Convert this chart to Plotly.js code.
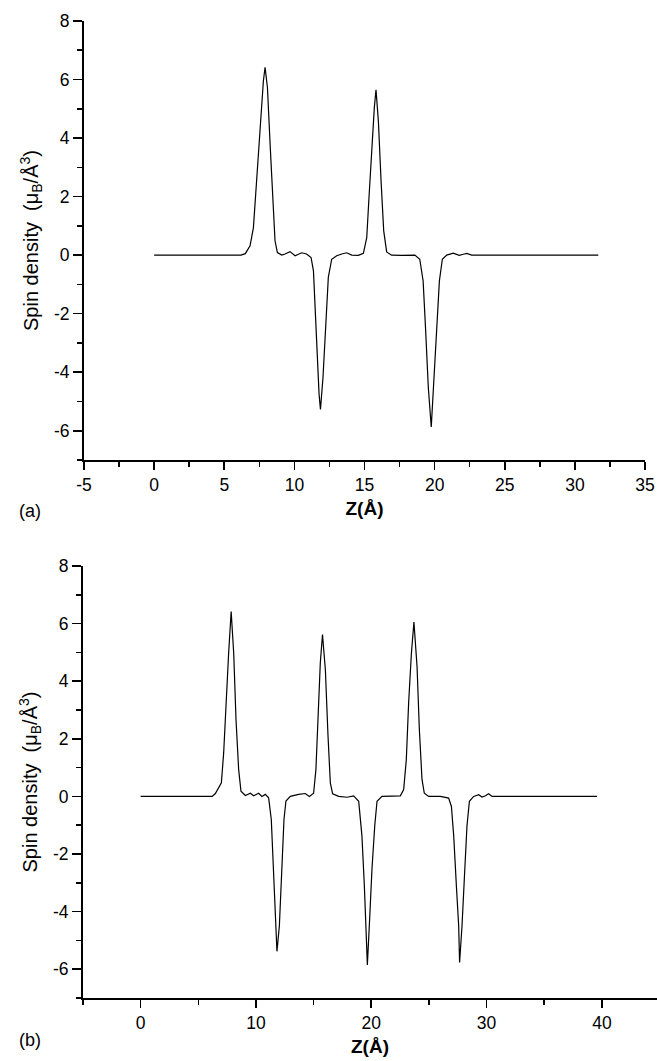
<!DOCTYPE html>
<html>
<head>
<meta charset="utf-8">
<script src="https://cdn.plot.ly/plotly-3.0.1.min.js"></script>
<style>html,body{margin:0;padding:0;background:#fff;}#chart{width:657px;height:1061px;}</style>
</head>
<body>
<div id="chart"></div>
<script>
// Panel (a): spin density vs Z (Å)
const zA = [0, 6.2, 6.5, 6.84, 7.08, 7.32, 7.55, 7.79, 7.91, 8.08,
  8.27, 8.46, 8.62, 8.79, 9.10, 9.33, 9.69, 10.05, 10.52, 10.87,
  11.19, 11.36, 11.48, 11.62, 11.76, 11.86, 12.04, 12.23, 12.42, 12.66,
  13.02, 13.38, 13.73, 14.09, 14.56, 14.92, 15.16, 15.32, 15.52, 15.70,
  15.82, 15.99, 16.18, 16.37, 16.58, 16.93, 17.64, 18.59, 18.94, 19.18,
  19.36, 19.55, 19.76, 19.91, 20.15, 20.34, 20.55, 20.86, 21.33, 21.75,
  22.05, 22.29, 22.64, 31.67];
const spinA = [0, 0, 0.05, 0.32, 0.94, 2.65, 4.58, 5.95, 6.42, 5.72,
  3.79, 1.85, 0.49, 0.09, 0.0, 0.04, 0.12, -0.02, 0.08, 0.04,
  -0.08, -0.54, -1.90, -3.61, -4.75, -5.27, -4.18, -2.47, -0.76, -0.14,
  -0.02, 0.04, 0.08, 0.0, -0.01, 0.06, 0.60, 1.97, 3.67, 5.04,
  5.65, 4.58, 2.54, 0.83, 0.11, 0.0, -0.01, 0.0, -0.14, -0.88,
  -2.58, -4.52, -5.87, -4.52, -2.58, -0.88, -0.14, 0.0, 0.07, -0.01,
  0.03, 0.06, 0.0, 0];

// Panel (b)
const zB = [0, 6.2, 6.48, 7.0, 7.2, 7.4, 7.63, 7.85, 8.07, 8.27,
  8.50, 8.70, 9.08, 9.51, 9.80, 10.23, 10.52, 10.81, 11.10, 11.33,
  11.53, 11.73, 11.82, 12.03, 12.26, 12.43, 12.60, 12.98, 13.70, 14.28,
  14.63, 15.0, 15.20, 15.38, 15.58, 15.77, 16.02, 16.25, 16.45, 16.65,
  17.17, 17.90, 18.47, 18.91, 19.19, 19.40, 19.66, 19.86, 20.06, 20.30,
  20.50, 20.93, 22.52, 22.81, 23.04, 23.24, 23.48, 23.70, 23.97, 24.17,
  24.40, 24.60, 24.98, 25.99, 26.71, 26.95, 27.15, 27.38, 27.58, 27.66,
  27.87, 28.07, 28.30, 28.51, 28.88, 29.32, 29.60, 29.90, 30.18, 30.47,
  39.57];
const spinB = [0, 0, 0.10, 0.47, 1.51, 3.24, 4.97, 6.42, 4.97, 2.66,
  0.93, 0.18, 0.03, 0.11, 0.02, 0.11, 0.0, 0.07, -0.05, -0.80,
  -2.53, -4.49, -5.38, -4.49, -2.53, -0.80, -0.16, 0.0, 0.07, 0.10,
  0.0, 0.11, 0.93, 2.66, 4.63, 5.62, 4.39, 2.09, 0.47, 0.09,
  0.0, -0.03, 0.02, -0.17, -1.37, -3.10, -5.85, -4.26, -2.53, -1.03,
  -0.17, 0.0, 0.02, 0.24, 1.28, 3.24, 4.97, 6.05, 4.51, 2.32,
  0.59, 0.11, 0.0, 0.0, -0.06, -0.35, -1.37, -3.10, -4.49, -5.77,
  -4.49, -2.87, -1.03, -0.17, 0.0, 0.06, -0.02, 0.02, 0.09, 0.0,
  0];

// Tick labels (hyphen minus as in the reference)
const yTickVals = [-6, -4, -2, 0, 2, 4, 6, 8];
const yTickText = ['-6', '-4', '-2', '0', '2', '4', '6', '8'];
const xTickValsA = [-5, 0, 5, 10, 15, 20, 25, 30, 35];
const xTickTextA = ['-5', '0', '5', '10', '15', '20', '25', '30', '35'];
const xTickValsB = [0, 10, 20, 30, 40];
const xTickTextB = ['0', '10', '20', '30', '40'];

const panelLabels = ['(a)', '(b)'];
const xTitle = 'Z(Å)';
const yTitle = 'Spin density  (μ<sub>B</sub>/Å<sup>3</sup>)';

const FONT = 'Liberation Sans, Arial, Helvetica, sans-serif';

const lineStyle = {color: '#000', width: 1.2};
const traces = [
  {x: zA, y: spinA, type: 'scatter', mode: 'lines', line: lineStyle, xaxis: 'x', yaxis: 'y', hoverinfo: 'x+y'},
  {x: zB, y: spinB, type: 'scatter', mode: 'lines', line: lineStyle, xaxis: 'x2', yaxis: 'y2', hoverinfo: 'x+y'}
];

function xAx(domain, range, anchor, tv, tt, minorStep) {
  return {
    domain: domain, range: range, anchor: anchor,
    showline: true, linecolor: '#000', linewidth: 2,
    ticks: 'outside', ticklen: 8, tickwidth: 1.6, tickcolor: '#000',
    tickmode: 'array', tickvals: tv, ticktext: tt,
    minor: {ticks: 'outside', ticklen: 5, tickwidth: 1.6, tickcolor: '#000', tickmode: 'linear', tick0: 0, dtick: minorStep, showgrid: false},
    showgrid: false, zeroline: false, mirror: false,
    tickfont: {family: FONT, size: 17.5, color: '#000'},
    title: {text: xTitle, font: {family: FONT, size: 19, color: '#000', weight: 'bold'}, standoff: 8}
  };
}
function yAx(domain, anchor) {
  return {
    domain: domain, range: [-7, 8], anchor: anchor,
    showline: true, linecolor: '#000', linewidth: 2,
    ticks: 'outside', ticklen: 9, tickwidth: 1.6, tickcolor: '#000',
    tickmode: 'array', tickvals: yTickVals, ticktext: yTickText,
    minor: {ticks: 'outside', ticklen: 5, tickwidth: 1.6, tickcolor: '#000', tickmode: 'linear', tick0: 0, dtick: 1, showgrid: false},
    showgrid: false, zeroline: false, mirror: false,
    tickfont: {family: FONT, size: 17.5, color: '#000'},
    title: {text: yTitle, font: {family: FONT, size: 20, color: '#000'}, standoff: 10}
  };
}

const W = 657, H = 1061;
const layout = {
  width: W, height: H,
  margin: {l: 0, r: 0, t: 0, b: 0},
  paper_bgcolor: '#fff', plot_bgcolor: '#fff',
  showlegend: false,
  font: {family: FONT, color: '#000'},
  xaxis: xAx([84 / W, 645 / W], [-5, 35], 'y', xTickValsA, xTickTextA, 2.5),
  yaxis: yAx([1 - 460 / H, 1 - 21 / H], 'x'),
  xaxis2: xAx([83 / W, 1], [-5, 44.78], 'y2', xTickValsB, xTickTextB, 5),
  yaxis2: yAx([1 - 998 / H, 1 - 566 / H], 'x2'),
  annotations: [
    {text: panelLabels[0], xref: 'paper', yref: 'paper', x: 30 / W, y: 1 - 511 / H, showarrow: false, xanchor: 'center', yanchor: 'middle', font: {family: FONT, size: 18, color: '#000'}},
    {text: panelLabels[1], xref: 'paper', yref: 'paper', x: 30 / W, y: 1 - 1040 / H, showarrow: false, xanchor: 'center', yanchor: 'middle', font: {family: FONT, size: 18, color: '#000'}}
  ]
};

Plotly.newPlot('chart', traces, layout, {displayModeBar: false, staticPlot: true});
</script>
</body>
</html>
